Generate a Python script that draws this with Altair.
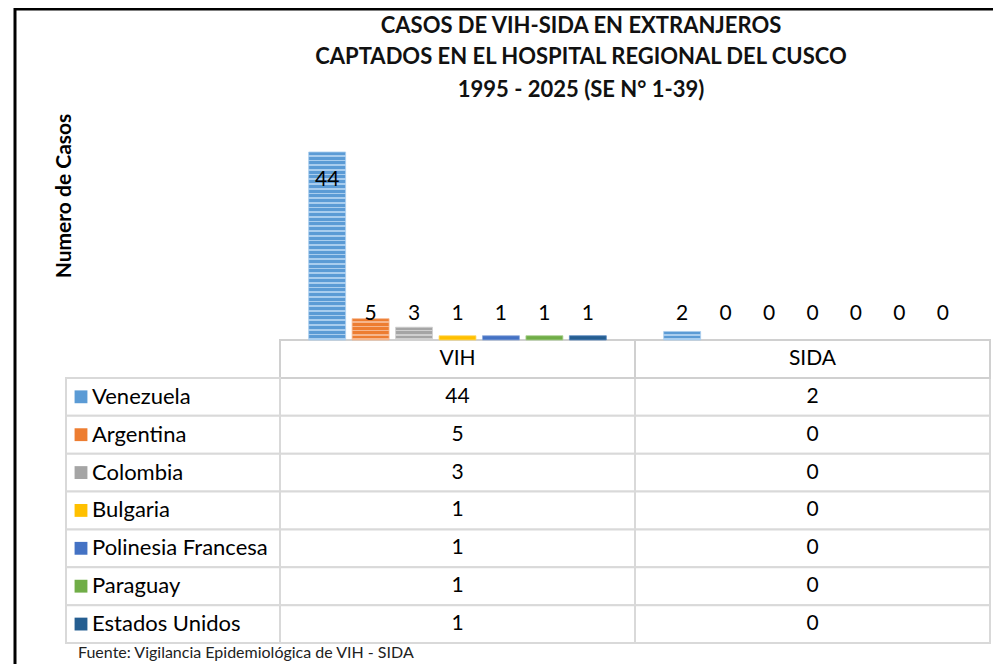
import altair as alt
import pandas as pd

# ---------------- data ----------------
COUNTRIES = ["Venezuela", "Argentina", "Colombia", "Bulgaria",
             "Polinesia Francesa", "Paraguay", "Estados Unidos"]
TYPES = ["VIH", "SIDA"]
VIH = [44, 5, 3, 1, 1, 1, 1]
SIDA = [2, 0, 0, 0, 0, 0, 0]
TITLE_LINES = ["CASOS DE VIH-SIDA EN EXTRANJEROS",
               "CAPTADOS EN EL HOSPITAL REGIONAL DEL CUSCO",
               "1995 - 2025 (SE N° 1-39)"]
Y_TITLE = "Numero de Casos"
SOURCE = "Fuente:  Vigilancia  Epidemiológica  de VIH - SIDA"

COLORS = ["#5B9BD5", "#ED7D31", "#A5A5A5", "#FFC000", "#4472C4", "#70AD47", "#255E91"]
LIGHT = ["#A9CDEE", "#F6B68C", "#CFCFCF", "#FFD966", "#8FAADC", "#A9D18E", "#5A8AC0"]

FONT = "Lato"
W, H = 985, 656

long = pd.DataFrame([
    {"Pais": c, "Tipo": t, "Casos": v, "Fila": c}
    for t, vals in zip(TYPES, [VIH, SIDA])
    for c, v in zip(COUNTRIES, vals)
])
header = pd.DataFrame({"Tipo": TYPES, "Fila": ["_header"] * len(TYPES)})
labels = pd.DataFrame({"Pais": COUNTRIES, "Fila": COUNTRIES})

# ---------------- scales ----------------
x_scale = alt.Scale(type="band", domain=TYPES, range=[272, 982], paddingInner=0, paddingOuter=0)
xo_scale = alt.Scale(type="band", domain=COUNTRIES, paddingInner=0.15, paddingOuter=0.66)
y_bar = alt.Scale(domain=[0, 44], range=[332, 144], nice=False, zero=True)
ROWS = ["_header"] + COUNTRIES
y_row = alt.Scale(type="band", domain=ROWS, range=[332, 635], paddingInner=0, paddingOuter=0)
col_scale = alt.Scale(domain=COUNTRIES, range=COLORS)

X = alt.X("Tipo:N", scale=x_scale, axis=None)
XO = alt.XOffset("Pais:N", scale=xo_scale)
YR = alt.Y("Fila:N", scale=y_row, axis=None)

layers = []

# table cells (value columns + header)
layers.append(alt.Chart(long).mark_rect(fill="white", stroke="#d9d9d9", strokeWidth=2)
              .encode(x=X, y=YR))
layers.append(alt.Chart(header).mark_rect(fill="white", stroke="#d0d0d0", strokeWidth=2)
              .encode(x=X, y=YR))
# label column cells
layers.append(alt.Chart(labels).mark_rect(fill="white", stroke="#d9d9d9", strokeWidth=2)
              .encode(x=alt.value(58), x2=alt.value(272), y=YR))

# striped bars
px_per_unit = (332 - 144) / 44.0
for i, c in enumerate(COUNTRIES):
    for t, vals in zip(TYPES, [VIH, SIDA]):
        v = vals[i]
        if v <= 0:
            continue
        n = int(round(v * px_per_unit / 4.7))
        if n >= 2:
            stops = []
            for k in range(n):
                a = k / n
                b = (k + 0.62) / n
                e = (k + 1) / n
                stops += [{"offset": a, "color": COLORS[i]},
                          {"offset": b, "color": COLORS[i]},
                          {"offset": b, "color": LIGHT[i]},
                          {"offset": e, "color": LIGHT[i]}]
            fill = {"gradient": "linear", "x1": 0, "y1": 0, "x2": 0, "y2": 1, "stops": stops}
        else:
            fill = COLORS[i]
        layers.append(
            alt.Chart(long)
            .transform_filter((alt.datum.Pais == c) & (alt.datum.Tipo == t))
            .mark_bar(fill=fill, stroke=LIGHT[i], strokeWidth=1, strokeOpacity=0.8)
            .encode(x=X, xOffset=XO, y=alt.Y("Casos:Q", scale=y_bar, axis=None))
        )

# bar labels
layers.append(
    alt.Chart(long)
    .transform_calculate(pos="datum.Casos > 10 ? datum.Casos - 6.5 : 6")
    .mark_text(font=FONT, fontSize=21, color="#000000", baseline="middle")
    .encode(x=X, xOffset=XO, y=alt.Y("pos:Q", scale=y_bar, axis=None), text="Casos:Q")
)

# table texts
layers.append(alt.Chart(long).mark_text(font=FONT, fontSize=21, color="#000000", baseline="middle")
              .encode(x=X, y=YR, text="Casos:Q"))
layers.append(alt.Chart(header).mark_text(font=FONT, fontSize=21, color="#000000", baseline="middle")
              .encode(x=X, y=YR, text="Tipo:N"))
layers.append(alt.Chart(labels).mark_square(size=165, opacity=1)
              .encode(x=alt.value(73), y=YR, color=alt.Color("Pais:N", scale=col_scale, legend=None)))
layers.append(alt.Chart(labels).mark_text(font=FONT, fontSize=22, color="#000000",
                                          align="left", baseline="middle")
              .encode(x=alt.value(84), y=YR, text="Pais:N"))

# titles
for line, yy in zip(TITLE_LINES, [18, 49, 82]):
    layers.append(alt.Chart(pd.DataFrame({"t": [line]}))
                  .mark_text(font=FONT, fontSize=22, fontWeight="bold", color="#111111",
                             align="center", baseline="middle")
                  .encode(x=alt.value(573), y=alt.value(yy), text="t:N"))

layers.append(alt.Chart(pd.DataFrame({"t": [Y_TITLE]}))
              .mark_text(font=FONT, fontSize=21, fontWeight="bold", color="#000000",
                         align="center", baseline="middle", angle=270)
              .encode(x=alt.value(57), y=alt.value(188), text="t:N"))

layers.append(alt.Chart(pd.DataFrame({"t": [SOURCE]}))
              .mark_text(font=FONT, fontSize=16, color="#222222", align="left",
                         baseline="alphabetic")
              .encode(x=alt.value(70), y=alt.value(650), text="t:N"))

# outer frame (left and top edges visible)
frame = pd.DataFrame({"k": [0]})
layers.append(alt.Chart(frame).mark_rule(color="black", strokeWidth=3)
              .encode(x=alt.value(7), y=alt.value(0), y2=alt.value(H)))
layers.append(alt.Chart(frame).mark_rule(color="black", strokeWidth=3)
              .encode(x=alt.value(6), x2=alt.value(W), y=alt.value(1)))

chart = (
    alt.layer(*layers)
    .resolve_scale(x="independent", y="independent", color="independent", xOffset="independent")
    .properties(width=W, height=H, padding=0, autosize="none", background="white")
    .configure_view(stroke=None)
)

chart.save("out.html", embed_options={"renderer": "svg", "actions": False})
